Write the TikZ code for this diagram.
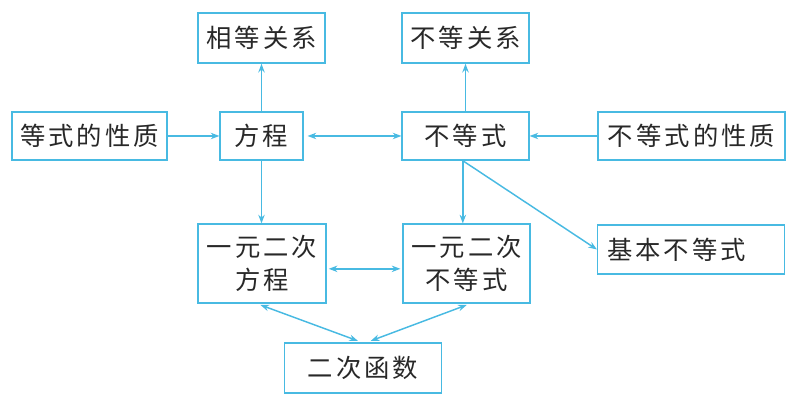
\documentclass[tikz,border=0pt]{standalone}
\usepackage{fontspec}
\usepackage{tikz}
\usetikzlibrary{arrows.meta, positioning, calc}
\newfontfamily\cjk[LetterSpace=12]{Noto Sans CJK SC}
\definecolor{mapblue}{RGB}{72, 186, 226}
\definecolor{inkgray}{RGB}{40, 40, 40}
\tikzstyle{box} = [rectangle, draw=mapblue, line width=1.1pt, text=inkgray, font=\cjk\fontsize{19}{25}\selectfont, minimum height=37.5pt, inner sep=0pt, align=center]
\tikzstyle{arrow} = [-{Stealth[length=6.5pt, width=4.8pt]}, draw=mapblue, line width=1.1pt]
\tikzstyle{both} = [{Stealth[length=6.5pt, width=4.8pt]}-{Stealth[length=6.5pt, width=4.8pt]}, draw=mapblue, line width=1.1pt]

\begin{document}
\begin{tikzpicture}[x=0.75pt, y=-0.75pt]
    \useasboundingbox (0,0) rectangle (790,398);

    % Top row
    \node[box, minimum width=95pt] (rel1) at (261.5, 38) {相等关系};
    \node[box, minimum width=95pt] (rel2) at (465.5, 38) {不等关系};

    % Middle row
    \node[box, minimum width=116pt, minimum height=36pt] (eqprop) at (89.5, 136) {等式的性质};
    \node[box, minimum width=62pt, minimum height=36pt] (eq) at (261.5, 136) {方程};
    \node[box, minimum width=95pt, minimum height=36pt] (ineq) at (465.5, 136) {不等式};
    \node[box, minimum width=140pt, minimum height=36pt] (ineqprop) at (691.5, 136) {不等式的性质};

    % Quadratic row
    \node[box, minimum width=96pt, minimum height=59pt] (quadeq) at (262, 263.5) {一元二次\\方程};
    \node[box, minimum width=95pt, minimum height=59pt] (quadineq) at (466.5, 263.5) {一元二次\\不等式};
    \node[box, minimum width=140pt, minimum height=37pt, text width=126pt, align=left] (basic) at (691, 249.5) {基本不等式};

    % Bottom
    \node[box, minimum width=118pt] (func) at (363, 368) {二次函数};

    % Arrows
    \draw[arrow] (eqprop) -- (eq);
    \draw[arrow] (eq) -- (rel1);
    \draw[both, shorten <=3pt] (eq) -- (ineq);
    \draw[arrow] (ineqprop) -- (ineq);
    \draw[arrow] (ineq) -- (rel2);
    \draw[arrow] (eq.south) -- (eq.south |- quadeq.north);
    \draw[arrow] ([xshift=-2pt]ineq.south) -- ([xshift=-2pt]ineq.south |- quadineq.north);
    \draw[arrow] ([xshift=-2pt]ineq.south) -- (basic.west);
    \draw[both, shorten <=1.5pt, shorten >=1.5pt] ([yshift=-4pt]quadeq.east) -- ([yshift=-4pt]quadineq.west);
    \draw[both, shorten <=3pt, shorten >=3pt] ([xshift=-4pt]quadeq.south) -- ([xshift=-1pt]func.north);
    \draw[both, shorten <=3pt, shorten >=3pt] ([xshift=3pt]quadineq.south) -- ([xshift=3pt]func.north);
\end{tikzpicture}
\end{document}
